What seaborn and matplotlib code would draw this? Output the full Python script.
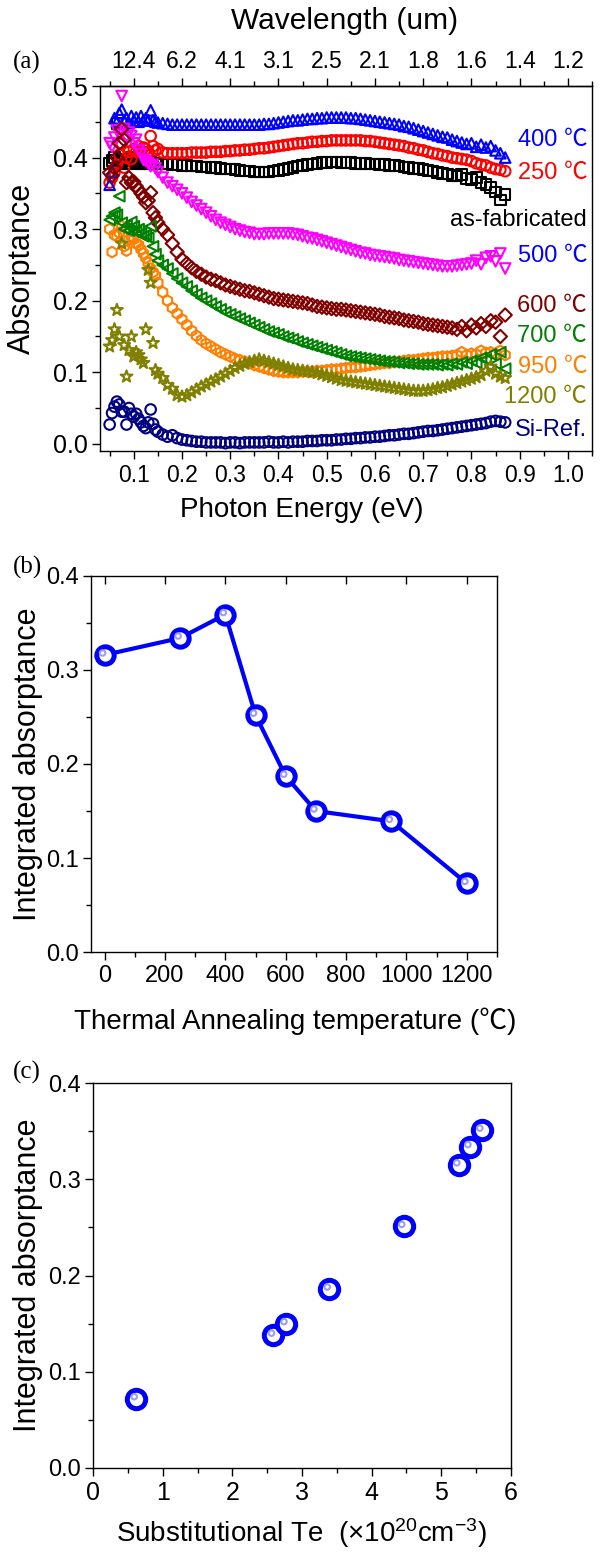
import numpy as np
import pandas as pd
import matplotlib
matplotlib.use('Agg')
import matplotlib.pyplot as plt
import seaborn as sns
from matplotlib.ticker import MultipleLocator
from matplotlib.transforms import ScaledTranslation

# ---- data: (a) absorptance spectra ----
energy = [0.050, 0.055, 0.060, 0.065, 0.070, 0.075, 0.080, 0.085, 0.090, 0.095,
          0.100, 0.105, 0.110, 0.115, 0.120, 0.125, 0.130, 0.135, 0.140, 0.145, 0.150,
          0.16, 0.17, 0.18, 0.19, 0.20, 0.21, 0.22, 0.23, 0.24, 0.25,
          0.26, 0.27, 0.28, 0.29, 0.30, 0.31, 0.32, 0.33, 0.34, 0.35,
          0.36, 0.37, 0.38, 0.39, 0.40, 0.41, 0.42, 0.43, 0.44, 0.45,
          0.46, 0.47, 0.48, 0.49, 0.50, 0.51, 0.52, 0.53, 0.54, 0.55,
          0.56, 0.57, 0.58, 0.59, 0.60, 0.61, 0.62, 0.63, 0.64, 0.65,
          0.66, 0.67, 0.68, 0.69, 0.70, 0.71, 0.72, 0.73, 0.74, 0.75,
          0.76, 0.77, 0.78, 0.79, 0.80, 0.81, 0.82, 0.83, 0.84, 0.85,
          0.86, 0.87]

abs_asfab = [0.392, 0.396, 0.400, 0.448, 0.398, 0.394, 0.396, 0.392, 0.397, 0.400,
             0.395, 0.392, 0.394, 0.391, 0.393, 0.392, 0.392, 0.394, 0.391, 0.392, 0.392,
             0.391, 0.391, 0.390, 0.390, 0.389, 0.389, 0.388, 0.388, 0.387, 0.387,
             0.386, 0.386, 0.385, 0.384, 0.384, 0.383, 0.382, 0.381, 0.381, 0.380,
             0.380, 0.380, 0.380, 0.381, 0.382, 0.383, 0.385, 0.386, 0.388, 0.389,
             0.390, 0.391, 0.392, 0.393, 0.393, 0.394, 0.394, 0.393, 0.393, 0.393,
             0.392, 0.392, 0.392, 0.391, 0.391, 0.390, 0.390, 0.389, 0.389, 0.388,
             0.387, 0.386, 0.385, 0.385, 0.383, 0.382, 0.381, 0.379, 0.378, 0.377,
             0.375, 0.374, 0.376, 0.371, 0.369, 0.372, 0.365, 0.362, 0.358, 0.352,
             0.341, 0.348]

abs_250 = [0.365, 0.372, 0.379, 0.390, 0.404, 0.420, 0.386, 0.400, 0.408, 0.398,
           0.412, 0.408, 0.416, 0.410, 0.414, 0.412, 0.408, 0.430, 0.416, 0.410, 0.412,
           0.407, 0.406, 0.406, 0.406, 0.406, 0.406, 0.407, 0.407, 0.407, 0.407,
           0.408, 0.408, 0.408, 0.409, 0.409, 0.410, 0.410, 0.411, 0.411, 0.412,
           0.413, 0.413, 0.414, 0.415, 0.416, 0.417, 0.418, 0.419, 0.420, 0.420,
           0.421, 0.422, 0.422, 0.423, 0.423, 0.424, 0.424, 0.424, 0.424, 0.424,
           0.424, 0.424, 0.423, 0.423, 0.422, 0.421, 0.420, 0.419, 0.418, 0.417,
           0.416, 0.414, 0.413, 0.411, 0.410, 0.408, 0.406, 0.405, 0.403, 0.402,
           0.400, 0.399, 0.398, 0.397, 0.395, 0.392, 0.390, 0.389, 0.386, 0.384,
           0.383, 0.381]

abs_400 = [0.362, 0.380, 0.455, 0.450, 0.462, 0.467, 0.452, 0.455, 0.448, 0.458,
           0.452, 0.456, 0.450, 0.458, 0.452, 0.455, 0.452, 0.466, 0.452, 0.450, 0.449,
           0.448, 0.447, 0.446, 0.446, 0.446, 0.446, 0.446, 0.446, 0.446, 0.446,
           0.446, 0.446, 0.446, 0.446, 0.446, 0.446, 0.446, 0.446, 0.446, 0.446,
           0.446, 0.447, 0.447, 0.448, 0.449, 0.450, 0.451, 0.452, 0.452, 0.453,
           0.454, 0.454, 0.455, 0.455, 0.456, 0.456, 0.456, 0.456, 0.456, 0.455,
           0.455, 0.454, 0.453, 0.452, 0.451, 0.450, 0.449, 0.448, 0.447, 0.446,
           0.444, 0.443, 0.441, 0.439, 0.437, 0.435, 0.433, 0.431, 0.429, 0.428,
           0.425, 0.423, 0.421, 0.419, 0.420, 0.415, 0.418, 0.414, 0.416, 0.410,
           0.406, 0.400]

abs_500 = [0.420, 0.415, 0.428, 0.438, 0.432, 0.486, 0.440, 0.428, 0.435, 0.430,
           0.420, 0.425, 0.410, 0.405, 0.397, 0.395, 0.392, 0.388, 0.390, 0.385, 0.380,
           0.372, 0.365, 0.360, 0.355, 0.350, 0.344, 0.338, 0.333, 0.328, 0.323,
           0.318, 0.313, 0.309, 0.306, 0.303, 0.300, 0.298, 0.296, 0.295, 0.293,
           0.293, 0.293, 0.294, 0.294, 0.294, 0.294, 0.294, 0.293, 0.292, 0.290,
           0.288, 0.287, 0.285, 0.283, 0.281, 0.279, 0.277, 0.275, 0.273, 0.271,
           0.269, 0.267, 0.266, 0.264, 0.263, 0.262, 0.261, 0.260, 0.259, 0.257,
           0.256, 0.255, 0.254, 0.253, 0.252, 0.251, 0.250, 0.249, 0.248, 0.248,
           0.248, 0.249, 0.250, 0.251, 0.252, 0.256, 0.251, 0.260, 0.262, 0.255,
           0.266, 0.245]

abs_600 = [0.379, 0.375, 0.385, 0.400, 0.420, 0.440, 0.425, 0.365, 0.372, 0.365,
           0.366, 0.360, 0.355, 0.350, 0.345, 0.337, 0.340, 0.351, 0.323, 0.316, 0.309,
           0.300, 0.292, 0.280, 0.268, 0.258, 0.252, 0.246, 0.241, 0.237, 0.233,
           0.230, 0.228, 0.225, 0.222, 0.220, 0.218, 0.216, 0.214, 0.213, 0.211,
           0.209, 0.207, 0.205, 0.203, 0.202, 0.201, 0.200, 0.199, 0.198, 0.197,
           0.196, 0.194, 0.192, 0.191, 0.190, 0.189, 0.188, 0.188, 0.187, 0.186,
           0.185, 0.184, 0.183, 0.182, 0.181, 0.180, 0.178, 0.177, 0.176, 0.175,
           0.173, 0.172, 0.171, 0.170, 0.168, 0.167, 0.166, 0.165, 0.164, 0.163,
           0.162, 0.160, 0.164, 0.158, 0.166, 0.162, 0.168, 0.164, 0.172, 0.170,
           0.150, 0.180]

abs_700 = [0.313, 0.318, 0.323, 0.320, 0.346, 0.309, 0.300, 0.305, 0.298, 0.310,
           0.304, 0.296, 0.300, 0.294, 0.290, 0.292, 0.288, 0.304, 0.276, 0.265, 0.256,
           0.250, 0.245, 0.238, 0.231, 0.225, 0.220, 0.214, 0.209, 0.204, 0.200,
           0.196, 0.192, 0.188, 0.184, 0.181, 0.178, 0.175, 0.172, 0.169, 0.166,
           0.163, 0.160, 0.157, 0.155, 0.153, 0.150, 0.148, 0.146, 0.143, 0.141,
           0.139, 0.137, 0.135, 0.133, 0.131, 0.129, 0.127, 0.125, 0.123, 0.122,
           0.121, 0.120, 0.119, 0.118, 0.117, 0.116, 0.115, 0.115, 0.114, 0.113,
           0.113, 0.112, 0.112, 0.111, 0.111, 0.111, 0.111, 0.110, 0.111, 0.110,
           0.112, 0.111, 0.114, 0.112, 0.116, 0.113, 0.120, 0.118, 0.125, 0.112,
           0.128, 0.105]

abs_950 = [0.300, 0.268, 0.292, 0.290, 0.295, 0.304, 0.276, 0.270, 0.285, 0.290,
           0.286, 0.280, 0.278, 0.272, 0.266, 0.260, 0.253, 0.245, 0.240, 0.235, 0.225,
           0.212, 0.200, 0.190, 0.182, 0.174, 0.166, 0.158, 0.151, 0.145, 0.140,
           0.136, 0.132, 0.128, 0.125, 0.122, 0.119, 0.117, 0.115, 0.113, 0.110,
           0.108, 0.106, 0.104, 0.102, 0.101, 0.100, 0.100, 0.100, 0.100, 0.101,
           0.101, 0.101, 0.102, 0.102, 0.103, 0.104, 0.104, 0.105, 0.106, 0.107,
           0.107, 0.108, 0.109, 0.110, 0.111, 0.112, 0.113, 0.113, 0.114, 0.115,
           0.116, 0.117, 0.117, 0.118, 0.119, 0.120, 0.120, 0.121, 0.122, 0.122,
           0.123, 0.124, 0.128, 0.124, 0.126, 0.125, 0.130, 0.127, 0.128, 0.126,
           0.130, 0.124]

abs_1200 = [0.136, 0.145, 0.160, 0.187, 0.150, 0.280, 0.138, 0.094, 0.131, 0.150,
            0.122, 0.128, 0.124, 0.118, 0.113, 0.160, 0.243, 0.225, 0.141, 0.103, 0.098,
            0.092, 0.082, 0.077, 0.068, 0.066, 0.068, 0.072, 0.076, 0.080, 0.083,
            0.087, 0.090, 0.094, 0.098, 0.102, 0.106, 0.109, 0.112, 0.114, 0.116,
            0.118, 0.116, 0.114, 0.112, 0.110, 0.108, 0.106, 0.104, 0.103, 0.102,
            0.101, 0.100, 0.099, 0.097, 0.095, 0.093, 0.091, 0.089, 0.088, 0.087,
            0.086, 0.085, 0.084, 0.083, 0.082, 0.081, 0.080, 0.079, 0.078, 0.077,
            0.076, 0.075, 0.074, 0.074, 0.074, 0.075, 0.076, 0.078, 0.079, 0.081,
            0.083, 0.085, 0.087, 0.089, 0.091, 0.093, 0.096, 0.102, 0.108, 0.098,
            0.094, 0.092]

abs_siref = [0.027, 0.043, 0.052, 0.059, 0.055, 0.045, 0.045, 0.027, 0.050, 0.042,
             0.038, 0.042, 0.035, 0.030, 0.025, 0.022, 0.030, 0.048, 0.028, 0.020, 0.017,
             0.013, 0.010, 0.012, 0.008, 0.006, 0.005, 0.004, 0.003, 0.003, 0.002,
             0.002, 0.002, 0.002, 0.001, 0.002, 0.002, 0.001, 0.002, 0.002, 0.002,
             0.002, 0.002, 0.003, 0.002, 0.002, 0.003, 0.002, 0.003, 0.003, 0.003,
             0.004, 0.004, 0.004, 0.005, 0.005, 0.005, 0.006, 0.006, 0.007, 0.007,
             0.008, 0.008, 0.009, 0.009, 0.010, 0.010, 0.011, 0.012, 0.012, 0.013,
             0.014, 0.014, 0.015, 0.016, 0.017, 0.018, 0.018, 0.019, 0.020, 0.021,
             0.022, 0.023, 0.024, 0.025, 0.026, 0.027, 0.028, 0.029, 0.031, 0.032,
             0.031, 0.030]

wl_ticks = [0.1, 0.2, 0.3, 0.4, 0.5, 0.6, 0.7, 0.8, 0.9, 1.0]
wl_labels = ['12.4', '6.2', '4.1', '3.1', '2.5', '2.1', '1.8', '1.6', '1.4', '1.2']

# ---- data: (b) and (c) integrated absorptance ----
anneal_temp = [0, 250, 400, 500, 600, 700, 950, 1200]
integ_b = [0.316, 0.334, 0.359, 0.252, 0.187, 0.150, 0.139, 0.073]

te_conc = [0.62, 2.59, 2.77, 3.39, 4.46, 5.25, 5.41, 5.58]
integ_c = [0.072, 0.138, 0.150, 0.186, 0.251, 0.315, 0.334, 0.351]

sns.set_style('ticks')
plt.rcParams['font.family'] = ['Liberation Sans', 'Noto Sans CJK SC', 'DejaVu Sans']
plt.rcParams['mathtext.fontset'] = 'custom'
plt.rcParams['mathtext.rm'] = 'Liberation Sans'
plt.rcParams['mathtext.it'] = 'Liberation Sans:italic'
for k in ['axes.edgecolor', 'xtick.color', 'ytick.color', 'text.color', 'axes.labelcolor']:
    plt.rcParams[k] = 'black'
plt.rcParams['axes.linewidth'] = 1.0

W, H = 601, 1552
fig = plt.figure(figsize=(W / 100, H / 100), dpi=100)


def px_axes(left, top, right, bottom):
    return fig.add_axes([left / W, 1 - bottom / H, (right - left) / W, (bottom - top) / H])


def style_ticks(ax, size):
    ax.tick_params(which='major', direction='out', length=6, width=1, labelsize=size,
                   top=False, right=False, pad=3)
    ax.tick_params(which='minor', direction='out', length=3.5, width=1,
                   top=False, right=False)


# ================= (a) =================
ax_a = px_axes(100, 86, 592, 451)
series = [
    ('as-fabricated', abs_asfab, 's', 'black'),
    ('250', abs_250, 'o', '#ff0000'),
    ('400', abs_400, '^', '#0000ff'),
    ('500', abs_500, 'v', '#ff00ff'),
    ('600', abs_600, 'D', '#800000'),
    ('950', abs_950, 'h', '#ff8000'),
    ('700', abs_700, '<', '#008000'),
    ('1200', abs_1200, '*', '#808000'),
    ('Si-Ref.', abs_siref, 'o', '#000080'),
]
for name, vals, mk, col in series:
    df = pd.DataFrame({'energy': energy, 'absorptance': vals})
    size = 80 if mk == '*' else (46 if mk == 'D' else 58)
    sns.scatterplot(data=df, x='energy', y='absorptance', ax=ax_a, marker=mk, s=size,
                    color=col, facecolor='none', edgecolor=col, linewidth=1.5)

ax_a.set_xlim(0.03, 1.05)
ax_a.set_ylim(-0.01, 0.5)
ax_a.set_xticks(wl_ticks)
ax_a.set_yticks([0.0, 0.1, 0.2, 0.3, 0.4, 0.5])
ax_a.xaxis.set_minor_locator(MultipleLocator(0.05))
ax_a.yaxis.set_minor_locator(MultipleLocator(0.05))
ax_a.xaxis.set_major_formatter(matplotlib.ticker.FormatStrFormatter('%.1f'))
ax_a.yaxis.set_major_formatter(matplotlib.ticker.FormatStrFormatter('%.1f'))
style_ticks(ax_a, 16.5)
ax_a.tick_params(axis='y', labelsize=18)
ax_a.set_xlabel('Photon Energy (eV)', fontsize=20)
ax_a.set_ylabel('Absorptance', fontsize=22)
ax_a.xaxis.set_label_coords(0.41, -0.125)
ax_a.yaxis.set_label_coords(-0.128, 0.5)

top = ax_a.secondary_xaxis('top')
top.set_xticks(wl_ticks, labels=wl_labels)
top.xaxis.set_minor_locator(MultipleLocator(0.05))
top.tick_params(which='major', direction='out', length=6, width=1, labelsize=16.5, pad=3)
top.tick_params(which='minor', direction='out', length=3.5, width=1)
fig.text(345 / W, 1 - 7 / H, 'Wavelength (um)', ha='center', va='top', fontsize=21.5)

labels_a = [('400 ℃', 0.425, '#0000ff'), ('250 ℃', 0.379, '#ff0000'),
            ('as-fabricated', 0.313, 'black'), ('500 ℃', 0.262, '#0000ff'),
            ('600 ℃', 0.192, '#800000'), ('700 ℃', 0.150, '#008000'),
            ('950 ℃', 0.108, '#ff8000'), ('1200 ℃', 0.066, '#808000'),
            ('Si-Ref.', 0.020, '#000080')]
for txt, yv, col in labels_a:
    ax_a.text(1.04, yv, txt, color=col, fontsize=17, ha='right', va='center')

# ================= (b) =================
ax_b = px_axes(91, 576, 497, 952)
df_b = pd.DataFrame({'temperature': anneal_temp, 'integrated': integ_b})
sns.lineplot(data=df_b, x='temperature', y='integrated', ax=ax_b, color='#0000ff',
             linewidth=3.0, marker='o', markersize=12.5, markerfacecolor='white',
             markeredgecolor='#0000ff', markeredgewidth=3.6)
hl = ax_b.transData + ScaledTranslation(-2 / 100, 2 / 100, fig.dpi_scale_trans)
sns.scatterplot(data=df_b, x='temperature', y='integrated', ax=ax_b, s=30,
                color='#9c9cf2', edgecolor='none', transform=hl, zorder=4)
sns.scatterplot(data=df_b, x='temperature', y='integrated', ax=ax_b, s=6,
                color='white', edgecolor='none', transform=hl, zorder=5)
ax_b.set_xlim(-45, 1300)
ax_b.set_ylim(0, 0.4)
ax_b.set_xticks([0, 200, 400, 600, 800, 1000, 1200])
ax_b.set_yticks([0.0, 0.1, 0.2, 0.3, 0.4])
ax_b.xaxis.set_minor_locator(MultipleLocator(100))
ax_b.yaxis.set_minor_locator(MultipleLocator(0.05))
ax_b.yaxis.set_major_formatter(matplotlib.ticker.FormatStrFormatter('%.1f'))
style_ticks(ax_b, 17)
ax_b.xaxis.set_tick_params(which='major', top=True)
for t in ax_b.xaxis.get_major_ticks():
    t.tick2line.set_marker(3)  # inward tick on top spine
    t.tick2line.set_markersize(6)
ax_b.set_xlabel('Thermal Annealing temperature (℃)', fontsize=20)
ax_b.set_ylabel('Integrated absorptance', fontsize=22)
ax_b.xaxis.set_label_coords(0.502, -0.148)
ax_b.yaxis.set_label_coords(-0.118, 0.5)

# ================= (c) =================
ax_c = px_axes(93, 1083, 511, 1468)
df_c = pd.DataFrame({'te': te_conc, 'integrated': integ_c})
sns.scatterplot(data=df_c, x='te', y='integrated', ax=ax_c, s=175, color='#0000ff',
                facecolor='white', edgecolor='#0000ff', linewidth=3.6, zorder=3)
hl_c = ax_c.transData + ScaledTranslation(-2 / 100, 2 / 100, fig.dpi_scale_trans)
sns.scatterplot(data=df_c, x='te', y='integrated', ax=ax_c, s=30,
                color='#9c9cf2', edgecolor='none', transform=hl_c, zorder=4)
sns.scatterplot(data=df_c, x='te', y='integrated', ax=ax_c, s=6,
                color='white', edgecolor='none', transform=hl_c, zorder=5)
ax_c.set_xlim(0, 6)
ax_c.set_ylim(0, 0.4)
ax_c.set_xticks([0, 1, 2, 3, 4, 5, 6])
ax_c.set_yticks([0.0, 0.1, 0.2, 0.3, 0.4])
ax_c.xaxis.set_minor_locator(MultipleLocator(0.5))
ax_c.yaxis.set_minor_locator(MultipleLocator(0.05))
ax_c.yaxis.set_major_formatter(matplotlib.ticker.FormatStrFormatter('%.1f'))
style_ticks(ax_c, 17)
ax_c.tick_params(axis='x', labelsize=18)
ax_c.set_xlabel(r'Substitutional Te  ($\times$10$^{20}$cm$^{\mathrm{-3}}$)', fontsize=20)
ax_c.set_ylabel('Integrated absorptance', fontsize=22)
ax_c.xaxis.set_label_coords(0.498, -0.125)
ax_c.yaxis.set_label_coords(-0.12, 0.5)

# panel letters
for letter, x, y in [('(a)', 13, 62), ('(b)', 13, 567), ('(c)', 13, 1072)]:
    fig.text(x / W, 1 - y / H, letter, family='Liberation Serif', fontsize=18,
             ha='left', va='center')

fig.savefig('out.png', dpi=100)
